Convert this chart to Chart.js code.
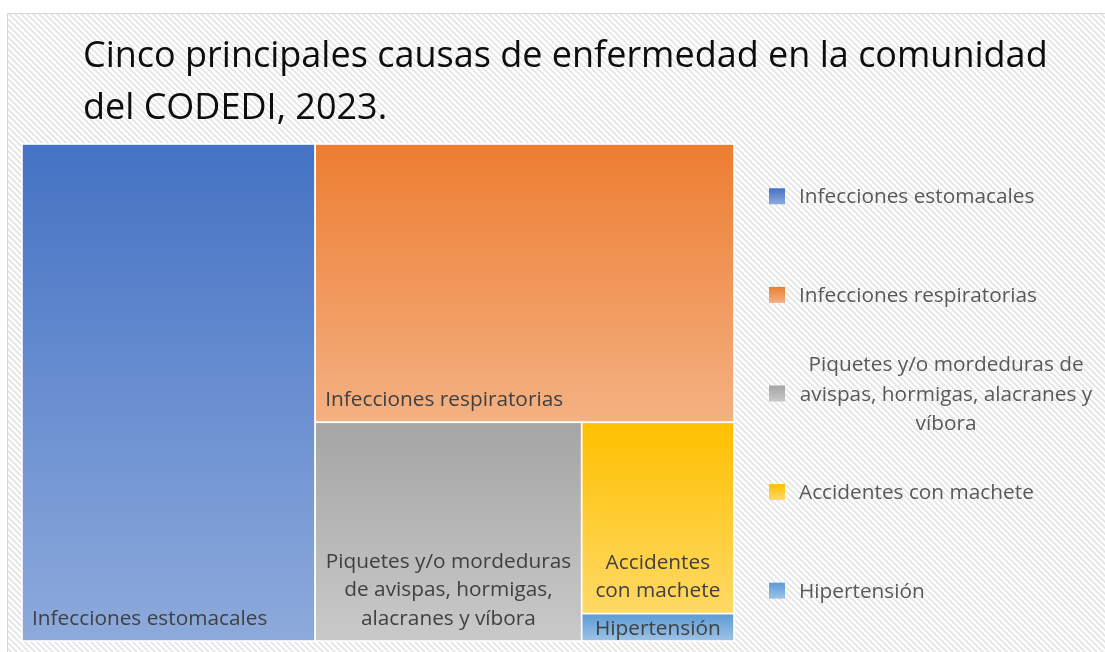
<!DOCTYPE html>
<html>
<head>
<meta charset="utf-8">
<script src="https://cdn.jsdelivr.net/npm/chart.js@4.4.0/dist/chart.umd.min.js"></script>
<style>
    body { margin: 0; background: #fff; }
    canvas { display: block; }
</style>
</head>
<body>
<canvas id="treemap" width="1105" height="652"></canvas>
<script>
// datos
const categorias = [
    'Infecciones estomacales',
    'Infecciones respiratorias',
    'Piquetes y/o mordeduras de avispas, hormigas, alacranes y víbora',
    'Accidentes con machete',
    'Hipertensión'
]
const casos = [35, 28, 14, 7, 1]
const titulo = ['Cinco principales causas de enfermedad en la comunidad', 'del CODEDI, 2023.']

// colores de arriba / abajo del degradado
const colores = [
    ['#4472C4', '#8EAADC'],
    ['#ED7D31', '#F4B183'],
    ['#A5A5A5', '#C9C9C9'],
    ['#FFC000', '#FFD966'],
    ['#5B9BD5', '#9DC3E6']
]

const fuente = '"Open Sans", "Noto Sans", sans-serif'

// layout squarified en unidades proporcionales al area
function squarify(values, w, h) {
    const total = values.reduce((a, b) => a + b, 0)
    const areas = values.map(v => v * w * h / total)
    const rects = []
    let x = 0, y = 0, W = w, H = h, i = 0
    while (i < areas.length) {
        const side = Math.min(W, H)
        const worst = r => {
            const s = r.reduce((a, b) => a + b, 0)
            return Math.max(side * side * Math.max(...r) / (s * s), s * s / (side * side * Math.min(...r)))
        }
        let row = [areas[i]], j = i + 1
        while (j < areas.length && worst([...row, areas[j]]) <= worst(row)) {
            row.push(areas[j])
            j++
        }
        const sum = row.reduce((a, b) => a + b, 0)
        if (W >= H) {
            const cw = sum / H
            let yy = y
            row.forEach(a => { rects.push({ x, y: yy, w: cw, h: a / cw }); yy += a / cw })
            x += cw; W -= cw
        } else {
            const rh = sum / W
            let xx = x
            row.forEach(a => { rects.push({ x: xx, y, w: a / rh, h: rh }); xx += a / rh })
            y += rh; H -= rh
        }
        i = j
    }
    return rects
}

function wrap(ctx, text, maxWidth) {
    const words = text.split(' ')
    const lines = []
    let line = ''
    words.forEach(w => {
        const test = line ? line + ' ' + w : w
        if (ctx.measureText(test).width > maxWidth && line) {
            lines.push(line)
            line = w
        } else {
            line = test
        }
    })
    lines.push(line)
    return lines
}

const fondoPlugin = {
    id: 'fondo',
    beforeDraw(chart) {
        const ctx = chart.ctx
        const { width, height } = chart
        ctx.save()
        ctx.fillStyle = '#fff'
        ctx.fillRect(0, 0, width, height)
        ctx.beginPath()
        ctx.rect(7, 13, width - 7, height - 13)
        ctx.clip()
        ctx.strokeStyle = '#e3e3e3'
        ctx.lineWidth = 1.6
        for (let x = -height; x < width; x += 6) {
            ctx.beginPath()
            ctx.moveTo(x, 13)
            ctx.lineTo(x + height, 13 + height)
            ctx.stroke()
        }
        ctx.restore()
        ctx.save()
        ctx.strokeStyle = '#d6d6d6'
        ctx.lineWidth = 1
        ctx.beginPath()
        ctx.moveTo(7.5, height)
        ctx.lineTo(7.5, 13.5)
        ctx.lineTo(width, 13.5)
        ctx.stroke()

        // titulo
        ctx.fillStyle = '#0d0d0d'
        ctx.font = '36px ' + fuente
        ctx.textBaseline = 'alphabetic'
        ctx.textAlign = 'left'
        titulo.forEach((t, i) => ctx.fillText(t, 83, 67 + i * 52))
        ctx.restore()
    }
}

const treemapPlugin = {
    id: 'treemap',
    afterDatasetsDraw(chart) {
        const ctx = chart.ctx
        const area = chart.chartArea
        const xs = chart.scales.x, ys = chart.scales.y
        const valores = chart.data.datasets[0].data
        const W = area.right - area.left, H = area.bottom - area.top
        const rects = squarify(valores, W, H)
        ctx.save()
        ctx.font = '20.8px ' + fuente
        rects.forEach((r, i) => {
            const x0 = xs.getPixelForValue(r.x / W * 100)
            const x1 = xs.getPixelForValue((r.x + r.w) / W * 100)
            const y0 = ys.getPixelForValue(r.y / H * 100)
            const y1 = ys.getPixelForValue((r.y + r.h) / H * 100)
            const g = ctx.createLinearGradient(0, y0, 0, y1)
            g.addColorStop(0, colores[i][0])
            g.addColorStop(1, colores[i][1])
            ctx.fillStyle = g
            ctx.fillRect(x0, y0, x1 - x0, y1 - y0)
            ctx.strokeStyle = '#ffffff'
            ctx.lineWidth = 1.6
            ctx.strokeRect(x0, y0, x1 - x0, y1 - y0)

            // etiqueta
            const lineas = wrap(ctx, chart.data.labels[i], x1 - x0 - 12)
            const lh = 28.5
            const alto = y1 - y0
            const centrar = lineas.length > 1 || alto < 2 * lh
            ctx.fillStyle = '#404040'
            ctx.textAlign = centrar ? 'center' : 'left'
            const tx = centrar ? (x0 + x1) / 2 : x0 + 10
            let base = y1 - 16.5
            if (alto < lh + 10) base = (y0 + y1) / 2 + 7.5
            lineas.forEach((l, k) => {
                ctx.fillText(l, tx, base - (lineas.length - 1 - k) * lh)
            })
        })

        // leyenda
        const top = 147, bottom = 640
        const slot = (bottom - top) / valores.length
        ctx.textAlign = 'left'
        chart.data.labels.forEach((lab, i) => {
            const cy = top + slot * (i + 0.5)
            const lineas = wrap(ctx, lab, 296)
            const g = ctx.createLinearGradient(0, cy - 8, 0, cy + 8)
            g.addColorStop(0, colores[i][0])
            g.addColorStop(1, colores[i][1])
            ctx.fillStyle = g
            ctx.fillRect(769, cy - 8, 16, 16)
            ctx.fillStyle = '#595959'
            const lh = 29.5
            if (lineas.length > 1) {
                ctx.textAlign = 'center'
                lineas.forEach((l, k) => {
                    ctx.fillText(l, 946, cy + 7 + (k - (lineas.length - 1) / 2) * lh)
                })
                ctx.textAlign = 'left'
            } else {
                ctx.fillText(lineas[0], 799, cy + 7)
            }
        })
        ctx.restore()
    }
}

new Chart(document.getElementById('treemap'), {
    type: 'bar',
    data: {
        labels: categorias,
        datasets: [{
            label: 'Casos',
            data: casos,
            hidden: true
        }]
    },
    options: {
        responsive: false,
        animation: false,
        layout: {
            padding: { left: 22, top: 144, right: 371, bottom: 11 }
        },
        scales: {
            x: { type: 'linear', min: 0, max: 100, offset: false, display: false },
            y: { type: 'linear', min: 0, max: 100, reverse: true, display: false }
        },
        plugins: {
            legend: { display: false },
            tooltip: { enabled: false }
        }
    },
    plugins: [fondoPlugin, treemapPlugin]
})
</script>
</body>
</html>
